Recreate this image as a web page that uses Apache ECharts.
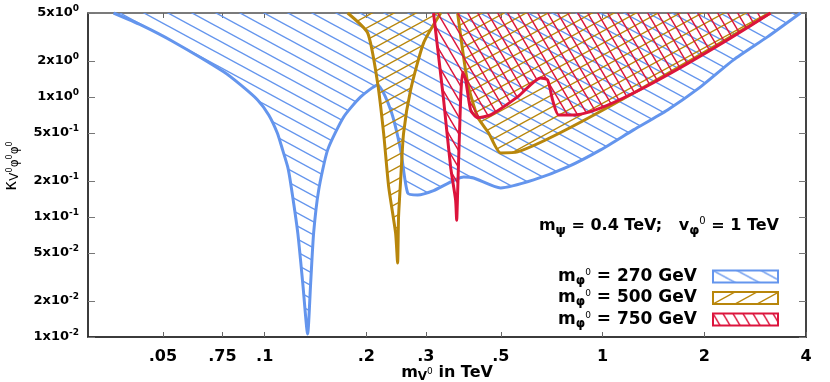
<!DOCTYPE html>
<html>
<head>
<meta charset="utf-8">
<script src="https://cdn.jsdelivr.net/npm/echarts@6/dist/echarts.min.js"></script>
<style>
html, body { margin: 0; padding: 0; background: #fff; }
#main { width: 830px; height: 382px; }
</style>
</head>
<body>
<div id="main"></div>
<script>
// 刻度
var xTicks = [0.05, 0.075, 0.1, 0.2, 0.3, 0.5, 1, 2, 4];
var xTickLabels = ['.05', '.75', '.1', '.2', '.3', '.5', '1', '2', '4'];
var yTicks = [0.01, 0.02, 0.05, 0.1, 0.2, 0.5, 1, 2, 5];
var yTickMant = ['1', '2', '5', '1', '2', '5', '1', '2', '5'];
var yTickExp = ['-2', '-2', '-2', '-1', '-1', '-1', '0', '0', '0'];
var massNames = ['270 GeV', '500 GeV', '750 GeV'];

// m_phi = 270 GeV 边界 [m_V (TeV), kappa]
var blue270 = [
    [0.0357, 5], [0.043, 3.98], [0.0538, 2.87], [0.0756, 1.62], [0.0849, 1.259],
    [0.0953, 0.944], [0.1028, 0.708], [0.109, 0.50], [0.113, 0.362], [0.117, 0.261],
    [0.1194, 0.19], [0.1253, 0.0736], [0.1296, 0.0282], [0.134, 0.0106],
    [0.1368, 0.0282], [0.1396, 0.0736], [0.1445, 0.168], [0.1536, 0.362], [0.1713, 0.681],
    [0.1923, 1.0], [0.2159, 1.259], [0.236, 0.779], [0.2526, 0.362], [0.265, 0.1585],
    [0.2837, 0.1526], [0.3162, 0.166], [0.388, 0.2154], [0.4153, 0.2113], [0.4992, 0.1745],
    [0.625, 0.2034], [0.788, 0.261], [0.9865, 0.362], [1.235, 0.531], [1.557, 0.779],
    [1.95, 1.212], [2.441, 2.034], [3.077, 3.162], [3.853, 5]
];
// m_phi = 500 GeV
var gold500 = [
    [0.176, 5], [0.2017, 3.41], [0.2159, 1.308], [0.2249, 0.50], [0.2328, 0.178],
    [0.244, 0.0736], [0.2474, 0.0414], [0.249, 0.1], [0.2526, 0.2034], [0.2577, 0.50],
    [0.2704, 1.144], [0.2954, 2.82], [0.332, 5],
    null,
    [0.3724, 5], [0.3988, 1.308], [0.4268, 0.681], [0.46, 0.501], [0.4992, 0.3415],
    [0.5604, 0.348], [3.14, 5]
];
// m_phi = 750 GeV
var red750 = [
    [0.316, 5], [0.3385, 0.944], [0.355, 0.261], [0.3673, 0.1386], [0.370, 0.094],
    [0.3724, 0.1585], [0.380, 0.944], [0.3854, 1.616], [0.3934, 1.386], [0.407, 0.779],
    [0.4268, 0.67], [0.4664, 0.708], [0.5604, 1.0], [0.6555, 1.44], [0.6875, 1.386],
    [0.7113, 0.944], [0.741, 0.708], [0.821, 0.708], [3.14, 5]
];

var colors = ['#6495ed', '#b8860b', '#dc143c'];
var font = 'DejaVu Sans';

// 斜线填充
function hatch(color, w, h, up) {
    var c = document.createElement('canvas');
    c.width = w;
    c.height = h;
    var g = c.getContext('2d');
    g.strokeStyle = color;
    g.lineWidth = 1.4;
    for (var k = -1; k <= 2; k++) {
        g.beginPath();
        if (up) {
            g.moveTo(-w, (k + 1) * h);
            g.lineTo(2 * w, (k - 2) * h);
        } else {
            g.moveTo(-w, (k - 1) * h);
            g.lineTo(2 * w, (k + 2) * h);
        }
        g.stroke();
    }
    return { image: c, repeat: 'repeat' };
}

var patterns = [
    hatch(colors[0], 24, 13, false),
    hatch(colors[1], 22, 12, true),
    hatch(colors[2], 10, 17, false)
];

function idx(arr, v) {
    for (var i = 0; i < arr.length; i++) {
        if (Math.abs(Math.log10(v) - Math.log10(arr[i])) < 1e-4) return i;
    }
    return -1;
}

var myChart = echarts.init(document.getElementById('main'));

var axisX = {
    type: 'log',
    logBase: 10,
    min: 0.03,
    max: 4,
    splitLine: { show: false },
    minorTick: { show: false },
    axisLine: { show: true, lineStyle: { color: '#222', width: 1.5 } },
    axisTick: { show: true, inside: true, length: 5, customValues: xTicks, lineStyle: { color: '#666' } }
};
var axisY = {
    type: 'log',
    logBase: 10,
    min: 0.01,
    max: 5,
    splitLine: { show: false },
    minorTick: { show: false },
    axisLine: { show: true, lineStyle: { color: '#222', width: 1.5 } },
    axisTick: { show: true, inside: true, length: 7, customValues: yTicks, lineStyle: { color: '#777' } }
};

var option = {
    animation: false,
    backgroundColor: '#fff',
    grid: {
        left: 88, right: 24, top: 13, bottom: 45,
        outerBoundsMode: 'none',
        containLabel: false,
        show: true, borderColor: '#666', borderWidth: 1.5
    },
    xAxis: [
        Object.assign({}, axisX, {
            position: 'bottom',
            axisLabel: {
                customValues: xTicks,
                margin: 12,
                fontFamily: font, fontWeight: 'bold', fontSize: 16, color: '#000',
                formatter: function (v) { var i = idx(xTicks, v); return i < 0 ? '' : xTickLabels[i]; }
            },
            name: '{t|m}{sub|V}{sup|0}{t| in TeV}',
            nameLocation: 'middle',
            nameMoveOverlap: false,
            nameGap: 26,
            nameTextStyle: {
                rich: {
                    t: { fontFamily: font, fontWeight: 'bold', fontSize: 16, color: '#000' },
                    sub: { fontFamily: font, fontWeight: 'bold', fontSize: 12, color: '#000', padding: [8, 0, 0, 0] },
                    sup: { fontFamily: font, fontSize: 9, color: '#000', padding: [0, 0, 2, 0] }
                }
            }
        }),
        Object.assign({}, axisX, {
            position: 'top',
            axisLine: { show: true, lineStyle: { color: '#777', width: 1.5 } },
            axisLabel: { show: false }
        })
    ],
    yAxis: [
        Object.assign({}, axisY, {
            position: 'left',
            axisLabel: {
                customValues: yTicks,
                margin: 9,
                formatter: function (v) {
                    var i = idx(yTicks, v);
                    return i < 0 ? '' : '{b|' + yTickMant[i] + 'x10}{p|' + yTickExp[i] + '}';
                },
                rich: {
                    b: { fontFamily: font, fontWeight: 'bold', fontSize: 13, color: '#000' },
                    p: { fontFamily: font, fontWeight: 'bold', fontSize: 9, color: '#000', padding: [0, 0, 9, 0] }
                }
            }
        }),
        Object.assign({}, axisY, {
            position: 'right',
            axisLine: { show: true, lineStyle: { color: '#444', width: 2 } },
            axisLabel: { show: false }
        })
    ],
    legend: {
        orient: 'vertical',
        right: 51,
        top: 268,
        padding: 0,
        align: 'right',
        itemWidth: 65,
        itemHeight: 12,
        itemGap: 3,
        selectedMode: false,
        data: massNames.map(function (n, i) {
            return {
                name: n,
                icon: 'rect',
                itemStyle: { color: patterns[i], borderColor: colors[i], borderWidth: 2 }
            };
        }),
        formatter: function (n) { return '{t|m}{sub|φ}{sup|0}{t| = ' + n + '}'; },
        textStyle: {
            padding: [0, 11, 0, 0],
            rich: {
                t: { fontFamily: font, fontWeight: 'bold', fontSize: 17, color: '#000' },
                sub: { fontFamily: font, fontWeight: 'bold', fontSize: 12, color: '#000', padding: [8, 0, 0, 0] },
                sup: { fontFamily: font, fontSize: 9, color: '#000', padding: [0, 0, 8, 0] }
            }
        }
    },
    graphic: [
        {
            type: 'text',
            right: 51,
            top: 216,
            style: {
                text: '{t|m}{sub|ψ}{t| = 0.4 TeV;   v}{sub|φ}{sup|0}{t| = 1 TeV}',
                rich: {
                    t: { fontFamily: font, fontWeight: 'bold', fontSize: 16, color: '#000' },
                    sub: { fontFamily: font, fontWeight: 'bold', fontSize: 13, color: '#000', padding: [10, 0, 0, 0] },
                    sup: { fontFamily: font, fontSize: 10, color: '#000', padding: [0, 0, 10, 0] }
                }
            }
        },
        {
            type: 'text',
            x: 12,
            y: 166,
            rotation: Math.PI / 2,
            style: {
                text: '{k|κ}{s|V}{q|0}{s|φ}{q|0}{s|φ}{q|0}',
                align: 'center',
                verticalAlign: 'middle',
                rich: {
                    k: { fontFamily: font, fontSize: 17, color: '#000' },
                    s: { fontFamily: font, fontSize: 12, color: '#000', padding: [6, 0, 0, 0] },
                    q: { fontFamily: font, fontSize: 8, color: '#000', padding: [0, 0, 4, 0] }
                }
            }
        }
    ],
    series: [blue270, gold500, red750].map(function (d, i) {
        return {
            name: massNames[i],
            type: 'line',
            data: d,
            z: 2 + i,
            showSymbol: false,
            smooth: 0.2,
            connectNulls: false,
            lineStyle: { color: colors[i], width: 3 },
            itemStyle: { color: colors[i] },
            areaStyle: { color: patterns[i], origin: 'end', opacity: 1 }
        };
    })
};

myChart.setOption(option);
</script>
</body>
</html>
